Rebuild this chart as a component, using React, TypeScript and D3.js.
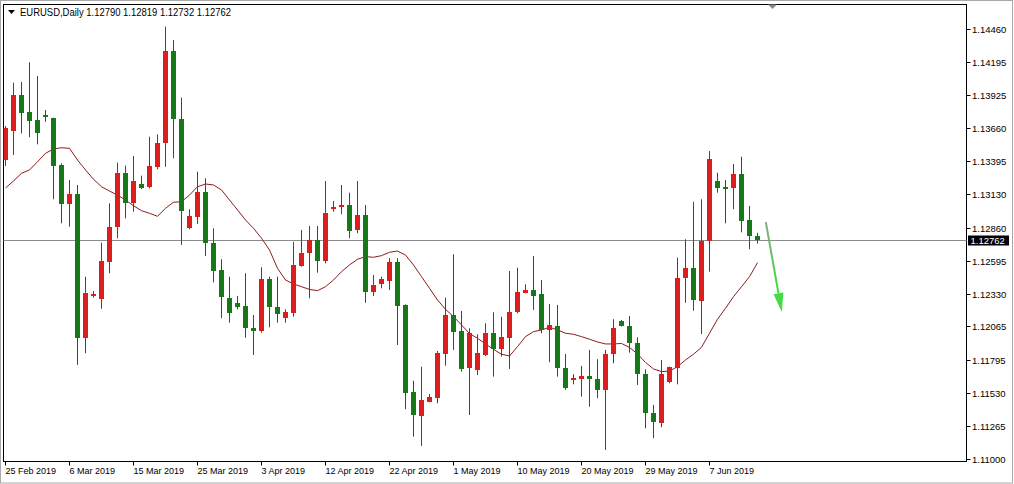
import React from "react";
import * as d3 from "d3";

// ---- Data (EURUSD Daily, one entry per bar) ----
const opens = [
  1.13405, 1.13641, 1.13928, 1.13791, 1.13727, 1.13765, 1.13741, 1.13365, 1.13053, 1.13131,
  1.11974, 1.12310, 1.12289, 1.12586, 1.12863, 1.13298, 1.13061, 1.13212, 1.13190, 1.13351,
  1.13540, 1.14282, 1.13735, 1.12860, 1.12949, 1.13147, 1.12734, 1.12520, 1.12297, 1.12256,
  1.12230, 1.12050, 1.12028, 1.12447, 1.12224, 1.12136, 1.12176, 1.12552, 1.12654, 1.12761,
  1.12594, 1.13013, 1.13029, 1.13043, 1.12842, 1.12962, 1.12345, 1.12407, 1.12433, 1.12586,
  1.12238, 1.11540, 1.11344, 1.11459, 1.11487, 1.11841, 1.12157, 1.12028, 1.11728, 1.11715,
  1.11835, 1.12015, 1.11884, 1.11974, 1.12179, 1.12337, 1.12359, 1.12326, 1.12037, 1.12069,
  1.11728, 1.11634, 1.11642, 1.11669, 1.11640, 1.11554, 1.11843, 1.12109, 1.12069, 1.11929,
  1.11682, 1.11366, 1.11290, 1.11620, 1.11728, 1.12453, 1.12533, 1.12272, 1.12755, 1.13236,
  1.13185, 1.13177, 1.13292, 1.12922, 1.12790,
];
const highs = [
  1.13679, 1.14027, 1.14033, 1.14192, 1.14081, 1.13808, 1.13746, 1.13378, 1.13244, 1.13204,
  1.12466, 1.12350, 1.12739, 1.13056, 1.13383, 1.13359, 1.13437, 1.13279, 1.13593, 1.13612,
  1.14478, 1.14371, 1.13907, 1.13008, 1.13311, 1.13258, 1.12855, 1.12606, 1.12466, 1.12310,
  1.12493, 1.12157, 1.12541, 1.12466, 1.12466, 1.12203, 1.12747, 1.12842, 1.12874, 1.12874,
  1.13236, 1.13075, 1.13204, 1.13142, 1.13236, 1.13043, 1.12479, 1.12466, 1.12614, 1.12614,
  1.12243, 1.11628, 1.11741, 1.11521, 1.11867, 1.12297, 1.12646, 1.12189, 1.12050, 1.12002,
  1.12090, 1.12179, 1.12144, 1.12511, 1.12538, 1.12404, 1.12632, 1.12439, 1.12246, 1.12238,
  1.11843, 1.11680, 1.11747, 1.11876, 1.11801, 1.11876, 1.12123, 1.12117, 1.12149, 1.11978,
  1.11720, 1.11433, 1.11795, 1.11741, 1.12619, 1.12767, 1.13069, 1.13089, 1.13477, 1.13303,
  1.13244, 1.13373, 1.13432, 1.13035, 1.12819,
];
const lows = [
  1.13357, 1.13445, 1.13620, 1.13588, 1.13531, 1.13713, 1.13089, 1.12895, 1.12868, 1.11755,
  1.11849, 1.12297, 1.12208, 1.12493, 1.12775, 1.12936, 1.12989, 1.13172, 1.13177, 1.13330,
  1.13351, 1.13419, 1.12721, 1.12847, 1.12890, 1.12632, 1.12420, 1.12131, 1.12095, 1.12203,
  1.11974, 1.11835, 1.12015, 1.12058, 1.12095, 1.12095, 1.12144, 1.12546, 1.12292, 1.12498,
  1.12573, 1.12989, 1.12968, 1.12775, 1.12815, 1.12256, 1.12310, 1.12372, 1.12359, 1.11916,
  1.11398, 1.11178, 1.11103, 1.11455, 1.11446, 1.11749, 1.11876, 1.11701, 1.11352, 1.11674,
  1.11827, 1.11661, 1.11822, 1.11723, 1.12171, 1.12332, 1.12198, 1.12010, 1.11777, 1.11661,
  1.11554, 1.11599, 1.11500, 1.11419, 1.11487, 1.11071, 1.11768, 1.12065, 1.11854, 1.11594,
  1.11245, 1.11165, 1.11253, 1.11607, 1.11599, 1.12256, 1.12192, 1.12004, 1.12506, 1.13142,
  1.12895, 1.13008, 1.12823, 1.12686, 1.12732,
];
const closes = [
  1.13663, 1.13928, 1.13786, 1.13721, 1.13625, 1.13749, 1.13359, 1.13053, 1.13131, 1.11974,
  1.12332, 1.12324, 1.12594, 1.12868, 1.13303, 1.13061, 1.13236, 1.13182, 1.13359, 1.13544,
  1.14282, 1.13733, 1.12997, 1.12954, 1.13147, 1.12734, 1.12514, 1.12300, 1.12176, 1.12224,
  1.12050, 1.12031, 1.12447, 1.12219, 1.12163, 1.12179, 1.12560, 1.12654, 1.12761, 1.12594,
  1.12981, 1.13029, 1.13043, 1.12836, 1.12962, 1.12345, 1.12399, 1.12445, 1.12586, 1.12232,
  1.11532, 1.11352, 1.11473, 1.11500, 1.11854, 1.12157, 1.12023, 1.11723, 1.12010, 1.11854,
  1.12015, 1.11884, 1.11983, 1.12184, 1.12345, 1.12359, 1.12313, 1.12037, 1.12077, 1.11728,
  1.11572, 1.11653, 1.11669, 1.11640, 1.11554, 1.11843, 1.12050, 1.12069, 1.11929, 1.11682,
  1.11366, 1.11294, 1.11682, 1.11736, 1.12453, 1.12533, 1.12278, 1.12755, 1.13413, 1.13182,
  1.13174, 1.13292, 1.12916, 1.12790, 1.12762,
];
const maValues = [
  1.13180, 1.13236, 1.13298, 1.13325, 1.13391, 1.13459, 1.13494, 1.13504, 1.13499, 1.13405,
  1.13325, 1.13250, 1.13190, 1.13155, 1.13123, 1.13083, 1.13037, 1.12997, 1.12976, 1.12952,
  1.13016, 1.13065, 1.13069, 1.13123, 1.13190, 1.13212, 1.13204, 1.13164, 1.13083, 1.13003,
  1.12922, 1.12855, 1.12775, 1.12681, 1.12533, 1.12439, 1.12407, 1.12385, 1.12363, 1.12353,
  1.12385, 1.12439, 1.12506, 1.12560, 1.12606, 1.12627, 1.12622, 1.12635, 1.12662, 1.12672,
  1.12640, 1.12560, 1.12466, 1.12372, 1.12278, 1.12203, 1.12144, 1.12077, 1.12008, 1.11970,
  1.11924, 1.11881, 1.11841, 1.11827, 1.11902, 1.11983, 1.12023, 1.12037, 1.12058, 1.12037,
  1.12010, 1.12002, 1.11983, 1.11962, 1.11940, 1.11924, 1.11924, 1.11928, 1.11896, 1.11843,
  1.11775, 1.11723, 1.11701, 1.11706, 1.11741, 1.11795, 1.11841, 1.11897, 1.12010, 1.12123,
  1.12211, 1.12305, 1.12385, 1.12466, 1.12578,
];
const priceTicks = [
  "1.14460", "1.14195", "1.13925", "1.13660", "1.13395", "1.13130", "1.12860",
  "1.12595", "1.12330", "1.12065", "1.11795", "1.11530", "1.11265", "1.11000",
];
const dateLabels = [
  "25 Feb 2019", "6 Mar 2019", "15 Mar 2019", "25 Mar 2019", "3 Apr 2019", "12 Apr 2019",
  "22 Apr 2019", "1 May 2019", "10 May 2019", "20 May 2019", "29 May 2019", "7 Jun 2019",
];
const dateLabelBars = [0, 8, 16, 24, 32, 40, 48, 56, 64, 72, 80, 88];
const symbolTitle = "EURUSD,Daily";
const lastPrice = 1.12762;
const arrowFrom = { bar: 95.1, price: 1.12906 };
const arrowTo = { bar: 97.1, price: 1.12181 };

const W = 1014;
const H = 484;
const PL = 3.5, PT = 4.5, PR = 966.5, PB = 461.5;
const FONT = "'Liberation Sans', Arial, 'DejaVu Sans', sans-serif";

export default function App() {
  const x = d3.scaleLinear().domain([0, opens.length - 1]).range([5, 5 + 8 * (opens.length - 1)]);
  const y = d3.scaleLinear().domain([1.11, 1.1446]).range([458.7, 29]);

  const maLine = d3
    .line<number>()
    .x((_, i) => Math.round(x(i)) + 0.5)
    .y((d) => y(d));

  const up = "#dc1d1d";
  const upWick = "#b01818";
  const dn = "#17781a";
  const dnWick = "#1e5e1e";

  const ax1 = x(arrowFrom.bar), ay1 = y(arrowFrom.price);
  const ax2 = x(arrowTo.bar), ay2 = y(arrowTo.price);
  const ang = Math.atan2(ay2 - ay1, ax2 - ax1);
  const headLen = 19, headW = 5;
  const bx = ax2 - headLen * Math.cos(ang), by = ay2 - headLen * Math.sin(ang);
  const px = -Math.sin(ang), py = Math.cos(ang);

  const lastY = Math.round(y(lastPrice)) + 0.5;

  return (
    <svg
      width={W}
      height={H}
      style={{ position: "absolute", left: 0, top: 0, background: "#fff" }}
      fontFamily={FONT}
    >
      <defs>
        <linearGradient id="arrowGrad" x1="0" y1="0" x2="0" y2="1">
          <stop offset="0" stopColor="#7aa57a" />
          <stop offset="0.6" stopColor="#4cbf4c" />
          <stop offset="1" stopColor="#22e022" />
        </linearGradient>
        <clipPath id="plotClip">
          <rect x={PL} y={PT} width={PR - PL} height={PB - PT} />
        </clipPath>
      </defs>
      <rect x={0} y={0} width={W} height={H} fill="#fff" />
      <rect x={0.5} y={0.5} width={W - 2} height={H - 1.5} fill="none" stroke="#a8a8a8" />

      {/* plot frame */}
      <rect x={PL} y={PT} width={PR - PL} height={PB - PT} fill="none" stroke="#000" strokeWidth={1} />

      {/* shift marker */}
      <polygon points={`768,4.5 777,4.5 772.5,9`} fill="#8a8a8a" />

      {/* header */}
      <polygon points="8,10 15,10 11.5,14" fill="#000" />
      <text x={20} y={16} fontSize={10.5} fill="#000" textLength={211} lengthAdjust="spacingAndGlyphs">
        {`${symbolTitle}  ${opens[opens.length - 1].toFixed(5)} ${highs[highs.length - 1].toFixed(5)} ${lows[lows.length - 1].toFixed(5)} ${closes[closes.length - 1].toFixed(5)}`}
      </text>

      {/* last price line */}
      <line x1={PL} x2={PR} y1={lastY} y2={lastY} stroke="#8c8c8c" strokeWidth={1} />

      <g clipPath="url(#plotClip)">
        {/* moving average */}
        <path d={maLine(maValues) || ""} fill="none" stroke="#8b1c1c" strokeWidth={1} />

        {/* candles */}
        {opens.map((o, i) => {
          const c = closes[i];
          const bull = c >= o;
          const cx = Math.round(x(i));
          const yTop = Math.round(y(Math.max(o, c)));
          const yBot = Math.round(y(Math.min(o, c)));
          return (
            <g key={i}>
              <line
                x1={cx + 0.5}
                x2={cx + 0.5}
                y1={y(highs[i])}
                y2={y(lows[i])}
                stroke={bull ? upWick : dnWick}
                strokeWidth={1}
              />
              <rect
                x={cx - 2}
                y={yTop}
                width={5}
                height={Math.max(1.5, yBot - yTop)}
                fill={bull ? up : dn}
              />
            </g>
          );
        })}
      </g>

      {/* annotation arrow */}
      <line x1={ax1} y1={ay1} x2={bx} y2={by} stroke="url(#arrowGrad)" strokeWidth={2} opacity={0.9} />
      <polygon
        points={`${ax2},${ay2} ${bx + px * headW},${by + py * headW} ${bx - px * headW},${by - py * headW}`}
        fill="#2fd82f"
        opacity={0.9}
      />

      {/* price axis */}
      {priceTicks.map((t) => {
        const ty = Math.round(y(+t)) + 0.5;
        return (
          <g key={t}>
            <line x1={PR} x2={PR + 4} y1={ty} y2={ty} stroke="#000" />
            <text x={972} y={ty + 3.5} fontSize={9.5} fill="#000">
              {t}
            </text>
          </g>
        );
      })}
      <rect x={968} y={lastY - 5} width={41} height={10} fill="#000" />
      <text x={970.5} y={lastY + 3.5} fontSize={9.5} fill="#fff">
        {lastPrice.toFixed(5)}
      </text>

      {/* time axis */}
      {dateLabels.map((lab, k) => {
        const tx = Math.round(x(dateLabelBars[k])) + 0.5;
        return (
          <g key={lab}>
            <line x1={tx} x2={tx} y1={PB} y2={PB + 4} stroke="#000" />
            <text x={tx} y={474} fontSize={9} fill="#000">
              {lab}
            </text>
          </g>
        );
      })}
    </svg>
  );
}
